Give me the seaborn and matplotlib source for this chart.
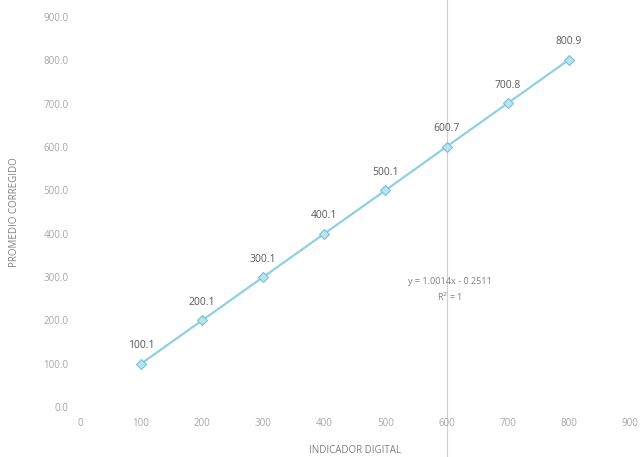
import matplotlib
matplotlib.use("Agg")
import matplotlib.pyplot as plt
import seaborn as sns
import pandas as pd

indicador = [100, 200, 300, 400, 500, 600, 700, 800]
promedio = [100.1, 200.1, 300.1, 400.1, 500.1, 600.7, 700.8, 800.9]
x_ticks = [0, 100, 200, 300, 400, 500, 600, 700, 800, 900]
y_ticks = [0, 100, 200, 300, 400, 500, 600, 700, 800, 900]
ecuacion = "y = 1.0014x - 0.2511"
r2 = "R$^2$ = 1"

sns.set_theme(style="white")
plt.rcParams['font.family'] = ['Open Sans', 'DejaVu Sans']

df = pd.DataFrame({"x": indicador, "y": promedio})

fig = plt.figure(figsize=(6.44, 4.57), dpi=100)
ax = fig.add_axes([0.124, 0.109, 0.854, 0.854])

line_col = "#8fd0e3"
sns.lineplot(data=df, x="x", y="y", ax=ax, color=line_col, linewidth=1.6,
             marker="D", markersize=5, markerfacecolor="#b8e4f0",
             markeredgecolor="#79bfd6", markeredgewidth=0.8)

for xi, yi in zip(indicador, promedio):
    ax.annotate(f"{yi:.1f}", (xi, yi), xytext=(0, 9), textcoords="offset points",
                ha="center", va="bottom", fontsize=7.5, color="#595959")

ax.axvline(600, ymin=-0.13, ymax=1.05, color="#d0d0d0", linewidth=0.8,
           zorder=0, clip_on=False)

ax.text(605, 289, ecuacion, ha="center", va="center", fontsize=6.5, color="#7f7f7f")
ax.text(605, 254, r2, ha="center", va="center", fontsize=6.5, color="#7f7f7f")

ax.set_xlim(0, 900)
ax.set_ylim(0, 900)
ax.set_xticks(x_ticks)
ax.set_xticklabels([str(t) for t in x_ticks])
ax.set_yticks(y_ticks)
ax.set_yticklabels([f"{t:.1f}" for t in y_ticks])
ax.tick_params(axis="both", labelsize=7, colors="#a6a6a6", length=0, pad=8)
for s in ax.spines.values():
    s.set_visible(False)
ax.grid(False)

ax.set_xlabel("INDICADOR DIGITAL", fontsize=7, color="#7f7f7f", labelpad=11)
ax.set_ylabel("PROMEDIO CORREGIDO", fontsize=7, color="#7f7f7f", labelpad=17)

fig.savefig("out.png", dpi=100)
